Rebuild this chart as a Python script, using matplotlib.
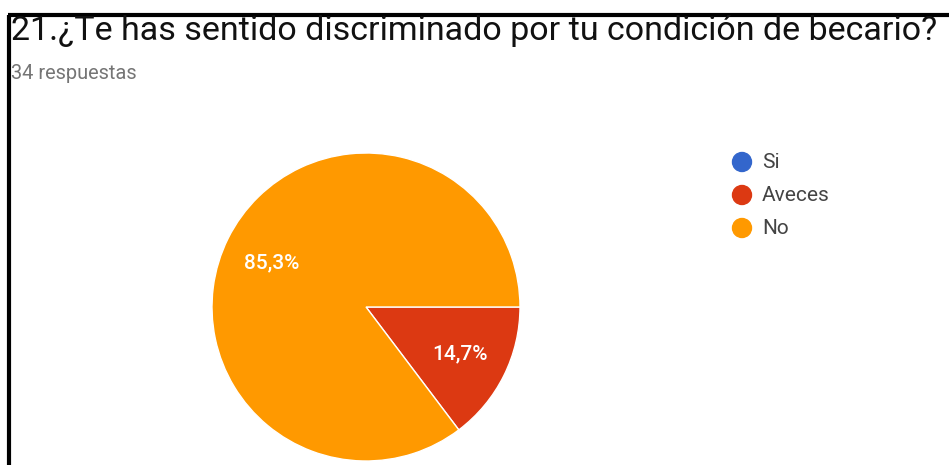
import matplotlib.pyplot as plt
from matplotlib.patches import Circle

# datos
categorias = ['Si', 'Aveces', 'No']
respuestas = [0, 5, 29]
colores = ['#3366cc', '#dc3912', '#ff9900']
etiquetas = ['', '14,7%', '85,3%']

titulo = '21.¿Te has sentido discriminado por tu condición de becario?'
subtitulo = '34 respuestas'

W, H = 949, 465
fig = plt.figure(figsize=(W / 100, H / 100), dpi=100)
fig.patch.set_facecolor('white')

# fondo en pixeles
bg = fig.add_axes([0, 0, 1, 1])
bg.set_xlim(0, W)
bg.set_ylim(H, 0)
bg.axis('off')

bg.plot([8, W], [15, 15], color='black', lw=3, solid_capstyle='butt')
bg.plot([9.5, 9.5], [15, H], color='black', lw=3, solid_capstyle='butt')

bg.text(11, 40, titulo, fontsize=24.5, family='Roboto', color='#111111', va='baseline')
bg.text(11, 79, subtitulo, fontsize=14.4, family='Roboto', color='#757575', va='baseline')

# leyenda
for i, (cat, col) in enumerate(zip(categorias, colores)):
    y = 162 + i * 33
    bg.add_patch(Circle((742, y), 9.5, color=col))
    bg.text(762, y, cat, fontsize=15, family='Roboto', color='#444444', va='center')

# pastel
cx, cy, r = 366, 307, 154
ax = fig.add_axes([(cx - r) / W, (H - cy - r) / H, 2 * r / W, 2 * r / H])
datos = [v for v in respuestas if v > 0]
cols = [c for v, c in zip(respuestas, colores) if v > 0]
labs = [l for v, l in zip(respuestas, etiquetas) if v > 0]
wedges, _ = ax.pie(datos, colors=cols, startangle=0, counterclock=False,
                   wedgeprops=dict(edgecolor='white', linewidth=1))
ax.set_xlim(-1, 1)
ax.set_ylim(-1, 1)
ax.set_aspect('equal')
ax.axis('off')

# etiquetas encima del pastel
top = fig.add_axes([0, 0, 1, 1])
top.set_xlim(0, W)
top.set_ylim(H, 0)
top.axis('off')
top.patch.set_alpha(0)
pos = [(460, 354), (272, 263)]
for (px, py), lab in zip(pos, labs):
    top.text(px, py, lab, fontsize=15, family='Roboto', weight='medium', color='white',
             ha='center', va='center')

fig.savefig('out.png', dpi=100)
